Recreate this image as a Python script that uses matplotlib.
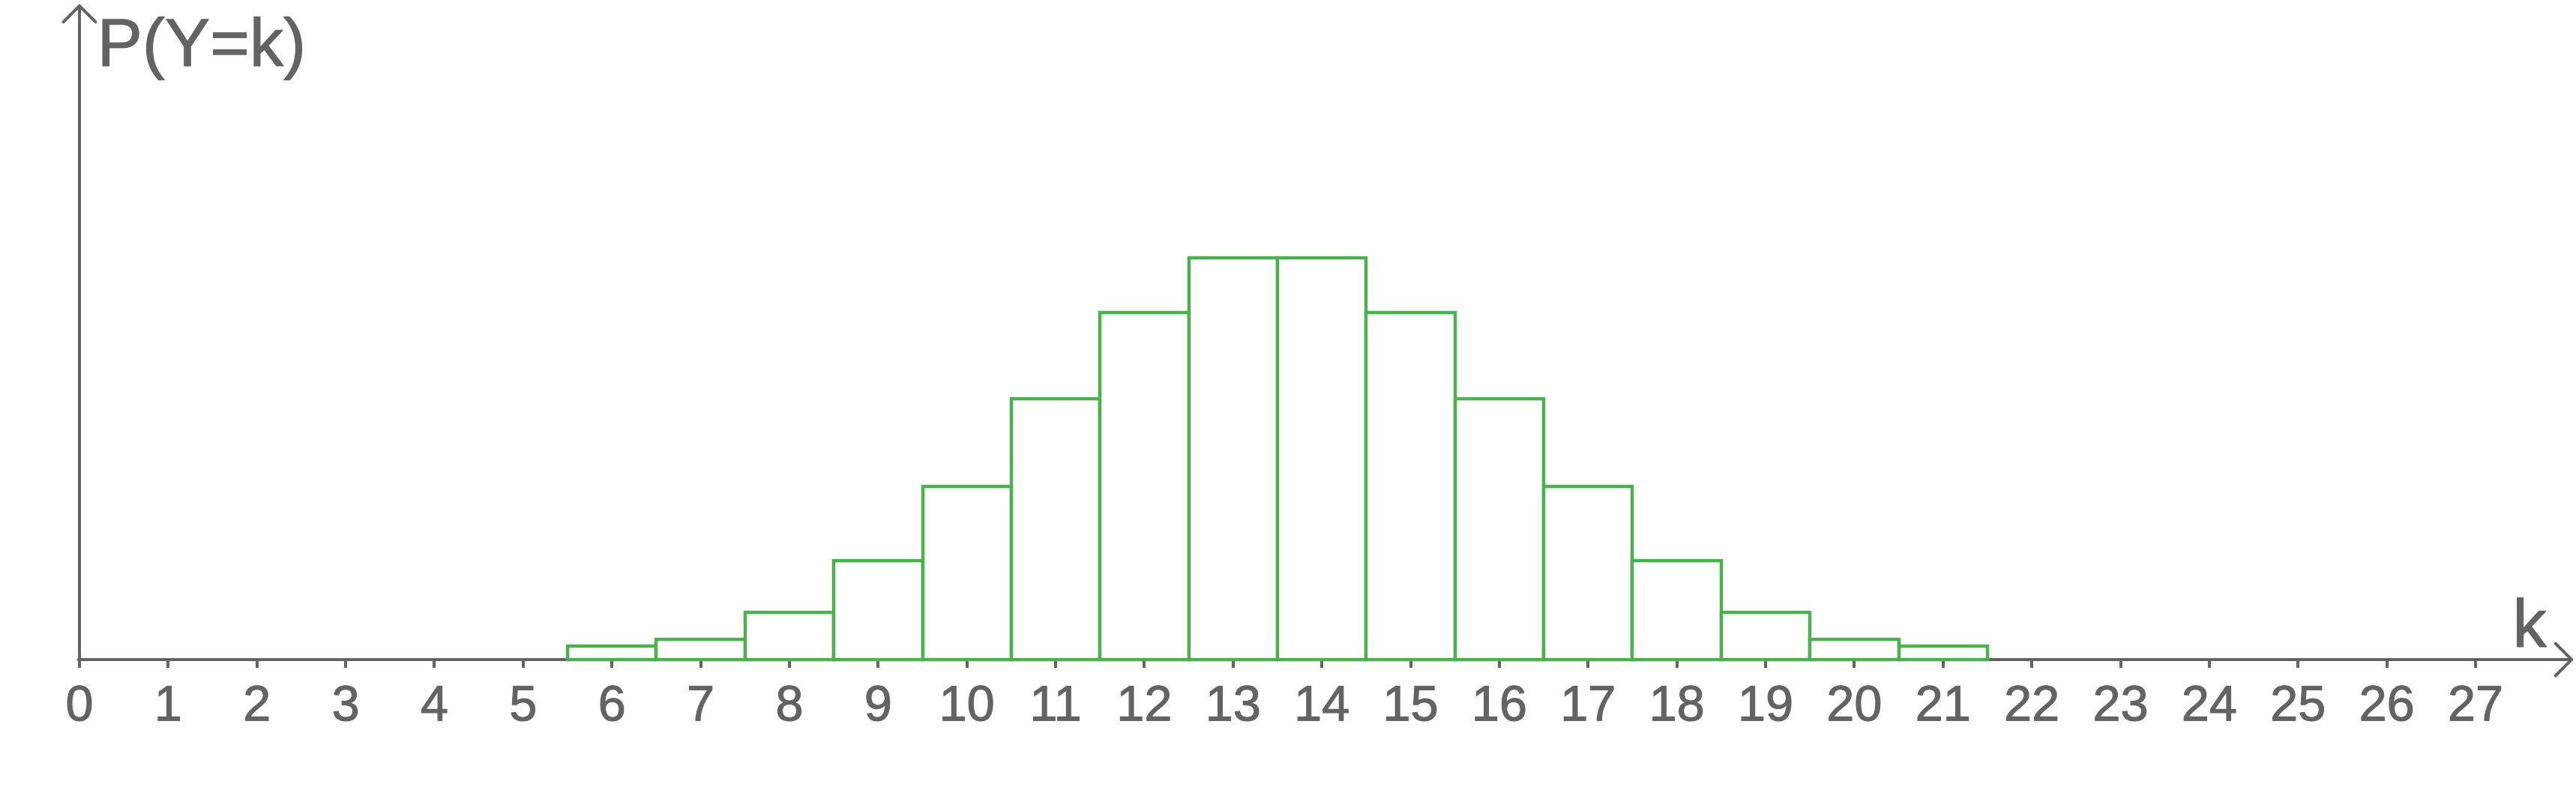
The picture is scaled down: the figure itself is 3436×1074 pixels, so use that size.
import matplotlib.pyplot as plt
import matplotlib.patheffects as pe
import numpy as np

plt.rcParams['font.family'] = ['Liberation Sans', 'DejaVu Sans']

# values (probabilities P(Y=k))
k_values = [6, 7, 8, 9, 10, 11, 12, 13, 14, 15, 16, 17, 18, 19, 20, 21]
probs = [0.005, 0.0075, 0.0175, 0.0367, 0.0642, 0.0967, 0.1287, 0.149,
         0.149, 0.1287, 0.0967, 0.0642, 0.0367, 0.0175, 0.0075, 0.005]
tick_positions = list(range(0, 28))
tick_labels = [str(t) for t in tick_positions]

gray = '#636363'
green = '#4caf50'
thick = [pe.withStroke(linewidth=0.8, foreground=gray)]

fig = plt.figure(figsize=(34.36, 10.74), dpi=100)
ax = fig.add_axes([0, 0, 1, 1])

# pixel -> data mapping so that 0 sits at x=106px and baseline at y=880px
px_x = 118.37
px_y = 0.149 / 536
ax.set_xlim(-106 / px_x, (3436 - 106) / px_x)
ax.set_ylim(-194 * px_y, (1074 - 194) * px_y)

for s in ax.spines.values():
    s.set_visible(False)
ax.spines['bottom'].set_position(('data', 0))
ax.set_yticks([])
ax.set_xticks(tick_positions, tick_labels)
ax.tick_params(axis='x', direction='out', length=8, width=2.9, color=gray,
               labelcolor=gray, labelsize=48, pad=16)
for lab in ax.get_xticklabels():
    lab.set_path_effects(thick)

# axes with open arrow heads
arrow = dict(arrowstyle='->,head_length=1.55,head_width=1.55', lw=2.9,
             color=gray, mutation_scale=10, shrinkA=0, shrinkB=0)
ax.annotate('', xy=((3433 - 106) / px_x, 0), xytext=(-1.4 / px_x, 0), arrowprops=arrow, zorder=1)
ax.annotate('', xy=(0, (880 - 5) * px_y), xytext=(0, -8 * px_y), arrowprops=arrow, zorder=1)

# bars
ax.bar(k_values, probs, width=1.0, facecolor='white', edgecolor=green,
       linewidth=3.2, zorder=3)

ax.text(0.2, (880 - 88) * px_y, 'P(Y=k)', color=gray, fontsize=65,
        ha='left', va='baseline', path_effects=thick)
ax.text(27.8, (880 - 863) * px_y, 'k', color=gray, fontsize=65,
        ha='right', va='baseline', path_effects=thick)

fig.savefig('out.png', dpi=100, facecolor='white')
